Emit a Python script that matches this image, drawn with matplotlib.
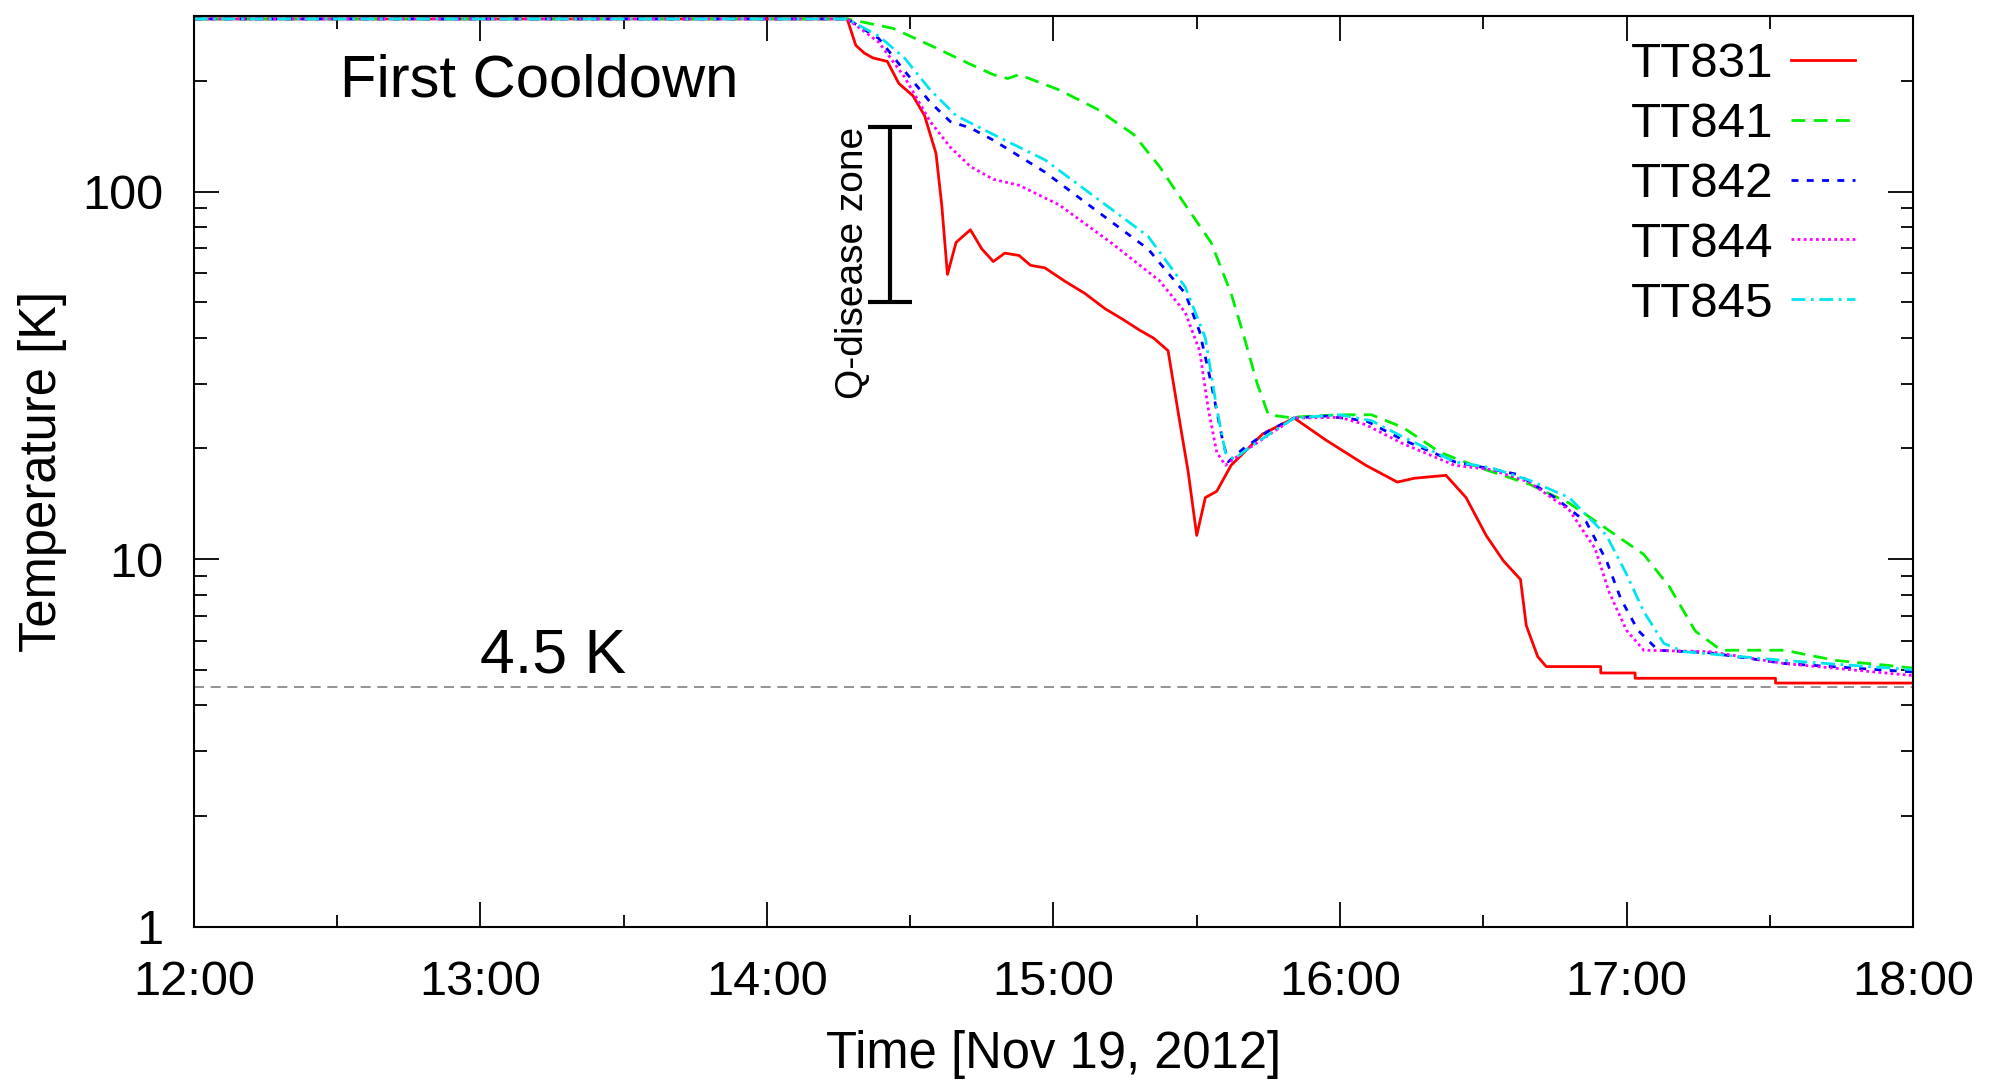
import numpy as np
import matplotlib
matplotlib.use("Agg")
import matplotlib.pyplot as plt

plt.rcParams['font.family'] = ['Liberation Sans', 'DejaVu Sans']

# time in hours (Nov 19, 2012), temperature in K
t831 = [12.0, 14.28, 14.31, 14.34, 14.37, 14.42, 14.46, 14.51, 14.55, 14.59, 14.61, 14.63,
        14.66, 14.71, 14.75, 14.79, 14.83, 14.88, 14.92, 14.97, 15.04, 15.11, 15.18, 15.24,
        15.30, 15.35, 15.40, 15.44, 15.47, 15.50, 15.53, 15.57, 15.62, 15.73, 15.84, 15.95,
        16.09, 16.20, 16.26, 16.37, 16.44, 16.51, 16.57, 16.63, 16.65, 16.69, 16.72, 16.91,
        16.91, 17.03, 17.03, 17.52, 17.52, 18.0]
T831 = [295, 295, 250, 238, 231, 226, 197, 182, 161, 127, 92, 59.5,
        72.7, 78.7, 69.8, 64.5, 68, 67, 63, 62, 57, 52.8, 48, 45,
        42, 39.9, 36.9, 23.8, 17.3, 11.6, 14.7, 15.3, 18, 21.9, 24.2, 21.1,
        18, 16.2, 16.6, 16.9, 14.7, 11.6, 9.9, 8.8, 6.6, 5.43, 5.1, 5.1,
        4.9, 4.9, 4.74, 4.74, 4.6, 4.6]

t841 = [12.0, 14.28, 14.44, 14.57, 14.71, 14.79, 14.84, 14.88, 15.02, 15.15, 15.28, 15.37,
        15.46, 15.55, 15.62, 15.66, 15.71, 15.75, 15.82, 16.0, 16.11, 16.22, 16.35, 16.49,
        16.66, 16.80, 16.93, 17.06, 17.15, 17.24, 17.33, 17.55, 17.73, 17.91, 18.0]
T841 = [295, 295, 278, 250, 222, 208, 203, 208, 189, 168, 143, 117,
        92, 72.7, 52.8, 41.6, 30.2, 24.7, 24.3, 24.7, 24.7, 22.8, 19.5, 17.7,
        16.0, 14.2, 12.1, 10.3, 8.4, 6.37, 5.65, 5.65, 5.3, 5.14, 5.05]

t842 = [12.0, 14.28, 14.39, 14.48, 14.57, 14.64, 14.71, 14.79, 14.97, 15.15, 15.33, 15.46,
        15.51, 15.55, 15.59, 15.61, 15.66, 15.75, 15.84, 15.95, 16.09, 16.22, 16.40, 16.51,
        16.62, 16.75, 16.86, 16.93, 16.98, 17.04, 17.11, 17.29, 17.55, 18.0]
T842 = [295, 295, 261, 213, 175, 155, 149, 138, 113, 88.7, 69.8, 52.8,
        41.6, 30.2, 21.1, 18.4, 19.9, 22.3, 24.2, 24.5, 23.8, 21.1, 18.4, 17.7,
        17.0, 14.7, 12.6, 9.9, 7.8, 6.4, 5.65, 5.56, 5.2, 4.93]

t844 = [12.0, 14.28, 14.39, 14.48, 14.57, 14.64, 14.71, 14.79, 14.88, 15.02, 15.20, 15.37,
        15.46, 15.51, 15.54, 15.57, 15.60, 15.66, 15.84, 16.0, 16.09, 16.22, 16.40, 16.53,
        16.66, 16.80, 16.89, 16.94, 17.00, 17.06, 17.29, 17.55, 18.0]
T844 = [295, 295, 255, 205, 155, 132, 117, 108, 104, 92, 72.7, 57.2,
        46.9, 36.9, 25.7, 19.5, 18.0, 19.5, 24.2, 24.3, 23.2, 20.6, 18.0, 17.5,
        16.2, 13.6, 10.7, 8.1, 6.4, 5.65, 5.6, 5.2, 4.82]

t845 = [12.0, 14.28, 14.39, 14.48, 14.57, 14.66, 14.79, 14.97, 15.15, 15.33, 15.46, 15.53,
        15.57, 15.60, 15.63, 15.69, 15.84, 16.0, 16.11, 16.22, 16.40, 16.53, 16.66, 16.80,
        16.93, 17.00, 17.06, 17.13, 17.20, 17.55, 18.0]
T845 = [295, 295, 265, 231, 189, 161, 143, 122, 96, 75.6, 55, 40,
        25.7, 19.5, 18.7, 20.3, 24.2, 24.7, 23.8, 21.5, 18.4, 17.7, 16.4, 14.7,
        11.6, 9.1, 7.2, 5.9, 5.6, 5.3, 5.0]

names = ['TT831', 'TT841', 'TT842', 'TT844', 'TT845']
colors = ['#ff0000', '#00ee00', '#0000ff', '#ff00ff', '#00e5ee']
dashes = ['-', (0, (5, 3)), (0, (2.5, 3)), (0, (1, 1.2)), (0, (5, 2, 1, 2))]
series = [(t831, T831), (t841, T841), (t842, T842), (t844, T844), (t845, T845)]

fig = plt.figure(figsize=(19.99, 10.8), dpi=100)
ax = fig.add_axes([0.097, 0.142, 0.860, 0.843])

for (t, T), name, c, ls in zip(series, names, colors, dashes):
    ax.plot(t, T, color=c, linestyle=ls, lw=2.0, label=name)

ax.axhline(4.5, color='#808080', lw=1.2, linestyle=(0, (6, 4)))

ax.set_yscale('log')
ax.set_ylim(1, 300)
ax.set_xlim(12, 18)
ax.set_xticks([12, 13, 14, 15, 16, 17, 18])
ax.set_xticklabels(['12:00', '13:00', '14:00', '15:00', '16:00', '17:00', '18:00'])
ax.set_xticks(np.arange(12.5, 18, 1.0), minor=True)
ax.set_yticks([1, 10, 100])
ax.set_yticklabels(['1', '10', '100'])

ax.tick_params(which='both', direction='in', top=True, right=True, labelsize=35, width=1.3)
ax.tick_params(which='major', length=18)
ax.tick_params(which='minor', length=9)
ax.tick_params(axis='x', which='major', pad=24)
ax.tick_params(axis='y', which='major', pad=22)
for s in ax.spines.values():
    s.set_linewidth(1.5)

ax.set_xlabel('Time [Nov 19, 2012]', fontsize=36.5, labelpad=18)
ax.set_ylabel('Temperature [K]', fontsize=36.5, labelpad=11)

ax.text(12.51, 200, 'First Cooldown', fontsize=43, va='center', ha='left')
ax.text(13.0, 5.45, '4.5 K', fontsize=45, va='center', ha='left')

# Q-disease bar
mid = np.sqrt(50 * 150)
ax.errorbar([14.43], [mid], yerr=[[mid - 50], [150 - mid]],
            color='black', lw=3, capsize=16, capthick=3, fmt='none')
ax.text(14.30, 64, 'Q-disease zone', rotation=90, fontsize=28, ha='center', va='center')

ax.legend(loc='upper right', bbox_to_anchor=(0.992, 1.02), frameon=False, markerfirst=False,
          fontsize=35.5, handlelength=1.3, labelspacing=0.3, handletextpad=0.35)

fig.savefig('out.png', dpi=100)
